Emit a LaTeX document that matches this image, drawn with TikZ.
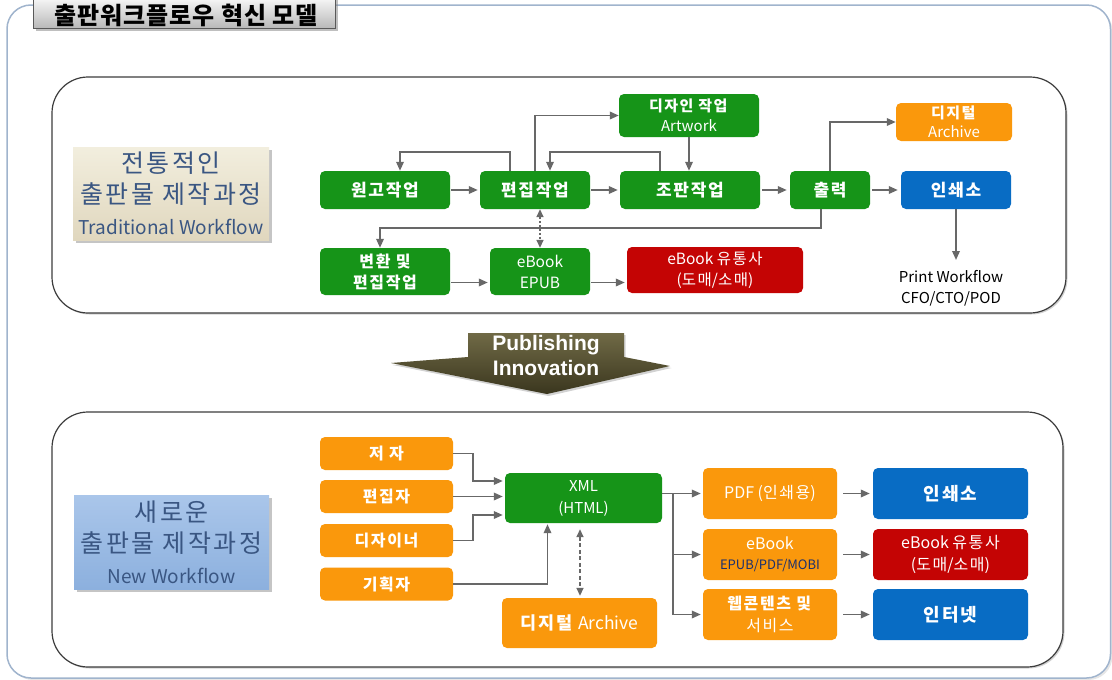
\documentclass[tikz,border=0pt]{standalone}
\usepackage{fontspec}
\setmainfont{Noto Sans CJK KR}
\newfontfamily\krw[LetterSpace=10]{Noto Sans CJK KR}
\newfontfamily\titlefont[LetterSpace=4]{Noto Sans CJK KR}
\newfontfamily\pubfont{Liberation Sans}
\usetikzlibrary{arrows.meta,shadows}

\newcommand\tsz[2]{\fontsize{#1}{#2}\selectfont}
\newcommand\K[1]{{\krw #1}}

\definecolor{boxgreen}{RGB}{22,148,24}
\definecolor{boxorange}{RGB}{250,152,12}
\definecolor{boxblue}{RGB}{8,108,196}
\definecolor{boxred}{RGB}{196,4,4}
\definecolor{wire}{RGB}{104,104,104}
\definecolor{framecol}{RGB}{160,180,205}
\definecolor{panelline}{RGB}{60,60,60}
\definecolor{beigetop}{RGB}{242,238,222}
\definecolor{beigebot}{RGB}{224,215,190}
\definecolor{labeltext}{RGB}{58,86,130}
\definecolor{skytop}{RGB}{170,198,234}
\definecolor{skybot}{RGB}{140,176,222}
\definecolor{olivetop}{RGB}{112,106,70}
\definecolor{olivebot}{RGB}{58,54,30}
\definecolor{navytext}{RGB}{28,48,110}

\begin{document}
\begin{tikzpicture}[x=1pt,y=-1pt,
  wf/.style={rounded corners=5pt, text=white, align=center, inner sep=0pt},
  gbox/.style={wf, fill=boxgreen},
  obox/.style={wf, fill=boxorange},
  bbox/.style={wf, fill=boxblue},
  rbox/.style={wf, fill=boxred},
  arr/.style={draw=wire, line width=1.8pt, -{Triangle[length=9pt,width=7.5pt]}},
  twoway/.style={draw=wire, line width=1.6pt, {Triangle[length=8pt,width=7pt]}-{Triangle[length=8pt,width=7pt]}},
  panel/.style={draw=panelline, line width=1.2pt, rounded corners=36pt, fill=white,
    drop shadow={shadow xshift=1.5pt, shadow yshift=-1.5pt, opacity=0.35}},
  lab/.style={align=center, text=labeltext, inner sep=0pt, font=\krw\tsz{25}{31},
    drop shadow={shadow xshift=2.5pt, shadow yshift=-3pt, opacity=0.45}}
]
\useasboundingbox (0,0) rectangle (1112,680);

% outer frame and title tab
\draw[framecol, line width=1.5pt, rounded corners=24pt, fill=white,
  drop shadow={shadow xshift=2pt, shadow yshift=-2pt, opacity=0.2}] (7,5) rectangle (1110.5,678);
\node[draw=gray!70!black, line width=1pt, top color=white, bottom color=gray!55,
  minimum width=302pt, minimum height=34pt, inner sep=0pt,
  drop shadow={shadow xshift=3pt, shadow yshift=-3pt, opacity=0.5}] (title) at (184,11) {};
\node[font=\titlefont\bfseries\tsz{24}{28}, inner sep=0pt] (titletext) at (186,15) {출판워크플로우 혁신 모델};

% panels
\draw[panel] (52,77) rectangle (1066,313);
\draw[panel] (52,412) rectangle (1063,667);

% side labels
\node[lab, top color=beigetop, bottom color=beigebot, minimum width=196pt, minimum height=93pt]
  (oldlabel) at (171,193.5) {전통적인\\출판물 제작과정\\\rmfamily\tsz{19}{28}Traditional Workflow};
\node[lab, top color=skytop, bottom color=skybot, minimum width=195pt, minimum height=94pt]
  (newlabel) at (171.5,542) {새로운\\출판물 제작과정\\\rmfamily\tsz{19}{28}New Workflow};

% innovation arrow
\shade[top color=olivetop, bottom color=olivebot,
  drop shadow={shadow xshift=1.5pt, shadow yshift=-2pt, opacity=0.35}]
  (468,333) -- (624,333) -- (624,357) -- (670,366) -- (547,394) -- (391,363) -- (468,357) -- cycle;
\node[font=\pubfont\bfseries\tsz{21}{25}, text=white, align=center] (pubtext) at (546,355) {Publishing\\Innovation};

% traditional workflow
\node[gbox, minimum width=130pt, minimum height=38pt, font=\bfseries\tsz{17}{20}] (wongo) at (385,190) {\K{원고작업}};
\node[gbox, minimum width=110pt, minimum height=38pt, font=\bfseries\tsz{17}{20}] (pyeonjip) at (535,190) {\K{편집작업}};
\node[gbox, minimum width=140pt, minimum height=38pt, font=\bfseries\tsz{17}{20}] (jopan) at (690,190) {\K{조판작업}};
\node[gbox, minimum width=80pt, minimum height=38pt, font=\bfseries\tsz{17}{20}] (chul) at (830,190) {\K{출력}};
\node[bbox, minimum width=110pt, minimum height=38pt, font=\bfseries\tsz{17}{20}] (inswae) at (956,190) {\K{인쇄소}};
\node[gbox, minimum width=140pt, minimum height=43pt, font=\tsz{15}{20}] (design) at (689,115.5) {\textbf{\K{디자인 작업}}\\Artwork};
\node[obox, minimum width=116pt, minimum height=38pt, font=\tsz{15}{19}] (archiveA) at (954,122) {\textbf{\K{디지털}}\\Archive};
\node[gbox, minimum width=130pt, minimum height=47pt, font=\bfseries\tsz{16}{21}] (byeon) at (385,271.5) {\K{변환 및}\\\K{편집작업}};
\node[gbox, minimum width=100pt, minimum height=47pt, font=\tsz{15.5}{21}] (epub) at (540,271.5) {eBook\\EPUB};
\node[rbox, minimum width=176pt, minimum height=46pt, font=\tsz{15.5}{21}] (distA) at (715,270) {eBook \K{유통사}\\(\K{도매}/\K{소매})};
\node[align=center, font=\tsz{15}{21}, inner sep=0pt] (printwf) at (951,288) {Print Workflow\\CFO/CTO/POD};
\coordinate (printtip) at (956,260);

\draw[arr, shorten <=1pt, shorten >=2pt] (wongo) -- (pyeonjip);
\draw[arr, shorten <=1pt, shorten >=2pt] (pyeonjip) -- (jopan);
\draw[arr, shorten <=2pt, shorten >=3pt] (jopan) -- (chul);
\draw[arr, shorten <=2pt, shorten >=3pt] (chul) -- (inswae);
\draw[arr] ([xshift=-25pt]pyeonjip.north) -- ++(0,-19) -| ([xshift=15pt]wongo.north);
\draw[arr] ([xshift=-30pt]jopan.north) -- ++(0,-19) -| ([xshift=15pt]pyeonjip.north);
\draw[arr] (pyeonjip.north) |- (design.west);
\draw[arr] (design.south) -- (design.south |- jopan.north);
\draw[arr] (chul.north) |- (archiveA.west);
\draw[arr] ([xshift=-9pt]chul.south) -- ++(0,19) -| ([xshift=-5pt]byeon.north);
\draw[twoway, dash pattern=on 2pt off 2pt] ([xshift=5pt]pyeonjip.south) -- (epub.north);
\draw[arr, shorten <=1pt, shorten >=2pt] ([yshift=-11pt]byeon.east) -- ([yshift=-11pt]epub.west);
\draw[arr, shorten <=1pt, shorten >=2pt] ([yshift=-11pt]epub.east) -- ([yshift=-11pt]epub.east -| distA.west);
\draw[arr] (inswae.south) -- (printtip);

% new workflow
\node[obox, minimum width=133pt, minimum height=33pt, font=\bfseries\tsz{16}{19}] (jeoja) at (386.5,453.5) {\K{저 자}};
\node[obox, minimum width=133pt, minimum height=33pt, font=\bfseries\tsz{16}{19}] (pyeonjipja) at (386.5,496.5) {\K{편집자}};
\node[obox, minimum width=133pt, minimum height=33pt, font=\bfseries\tsz{16}{19}] (designer) at (386.5,540.5) {\K{디자이너}};
\node[obox, minimum width=133pt, minimum height=33pt, font=\bfseries\tsz{16}{19}] (gihoekja) at (386.5,584) {\K{기획자}};
\node[gbox, minimum width=157pt, minimum height=50pt, font=\tsz{15}{22}] (xml) at (583.5,498) {XML\\(HTML)};
\node[obox, minimum width=155pt, minimum height=50pt, font=\tsz{17.5}{20}] (archiveB) at (579.5,623) {\textbf{\K{디지털}} Archive};
\node[obox, minimum width=134pt, minimum height=51pt, font=\tsz{16}{20}] (pdf) at (770,493.5) {PDF (\K{인쇄용})};
\node[obox, minimum width=134pt, minimum height=51pt, font=\tsz{16}{20}] (ebookB) at (770,554.5) {eBook\\\textcolor{navytext}{\tsz{13}{16}EPUB/PDF/MOBI}};
\node[obox, minimum width=134pt, minimum height=51pt, font=\tsz{16}{22}] (web) at (770,614.5) {\textbf{\K{웹콘텐츠 및}}\\\K{서비스}};
\node[bbox, minimum width=155pt, minimum height=51pt, font=\bfseries\tsz{18}{20}] (inswaeB) at (950.5,493.5) {\K{인쇄소}};
\node[rbox, minimum width=155pt, minimum height=51pt, font=\tsz{16}{22}] (distB) at (950.5,554.5) {eBook \K{유통사}\\(\K{도매}/\K{소매})};
\node[bbox, minimum width=155pt, minimum height=51pt, font=\bfseries\tsz{18}{20}] (internet) at (950.5,614.5) {\K{인터넷}};
\coordinate (fan) at (673,493.5);

\draw[arr, shorten >=2pt] (jeoja.east) -- ++(20,0) |- ([yshift=17pt]xml.west);
\draw[arr, shorten >=2pt] (pyeonjipja.east) -- (pyeonjipja.east -| xml.west);
\draw[arr, shorten >=2pt] (designer.east) -- ++(20,0) |- ([yshift=-17pt]xml.west);
\draw[arr, shorten >=1pt] (gihoekja.east) -| ([xshift=-36pt]xml.south);
\draw[twoway, dash pattern=on 4pt off 2.5pt, shorten <=6pt, shorten >=2pt] ([xshift=-3.5pt]xml.south) -- ([xshift=-3.5pt]xml.south |- archiveB.north);
\draw[arr, shorten >=2pt] ([yshift=4.5pt]xml.east) -- (pdf.west);
\draw[arr, shorten >=2pt] (fan) |- (ebookB.west);
\draw[arr, shorten >=2pt] (fan) |- (web.west);
\draw[arr, shorten <=6pt, shorten >=3pt] (pdf) -- (inswaeB);
\draw[arr, shorten <=6pt, shorten >=3pt] (ebookB) -- (distB);
\draw[arr, shorten <=6pt, shorten >=3pt] (web) -- (internet);
\end{tikzpicture}
\end{document}
